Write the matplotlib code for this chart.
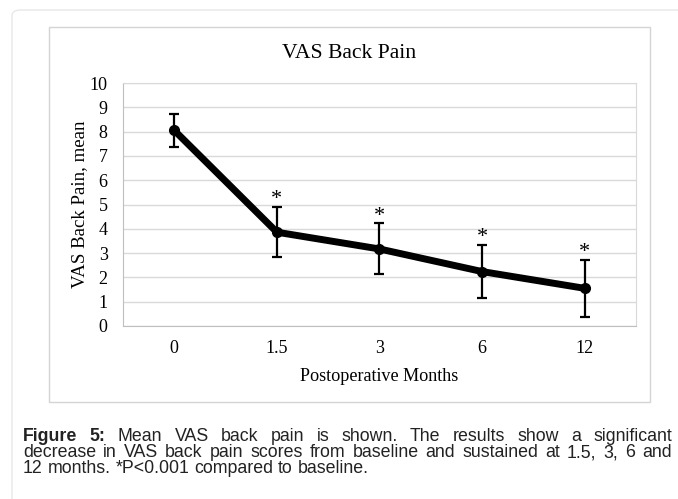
import matplotlib
matplotlib.use("Agg")
import matplotlib.pyplot as plt
from matplotlib.patches import Rectangle, FancyBboxPatch

# data
months = ["0", "1.5", "3", "6", "12"]
vas_mean = [8.05, 3.86, 3.17, 2.24, 1.55]
vas_err = [0.67, 1.04, 1.05, 1.09, 1.17]
signif = [False, True, True, True, True]

caption_lines = [
    "Mean VAS back pain is shown. The results show a significant",
    "decrease in VAS back pain scores from baseline and sustained at 1.5, 3, 6 and",
    "12 months. *P<0.001 compared to baseline.",
]

W, H = 678, 499
fig = plt.figure(figsize=(W / 100, H / 100), dpi=100)
SERIF = ["Liberation Serif", "DejaVu Serif"]
SANS = ["Liberation Sans", "DejaVu Sans"]

def px(x, y):
    return x / W, 1 - y / H

# outer page frame (rounded, runs off the right/bottom edge)
fig.patches.append(FancyBboxPatch(px(12, 520), 700 / W, 510 / H,
                                  boxstyle="round,pad=0,rounding_size=0.012",
                                  transform=fig.transFigure, fill=False,
                                  ec="#e8e8e8", lw=1))
# chart box
fig.patches.append(Rectangle(px(49, 402), (650 - 49) / W, (402 - 27) / H,
                             transform=fig.transFigure, fill=False,
                             ec="#d4d4d4", lw=1))

ax = fig.add_axes([123 / W, 1 - 326 / H, (636 - 123) / W, (326 - 83) / H])
xs = range(len(months))
ax.errorbar(xs, vas_mean, yerr=vas_err, fmt="none", ecolor="black",
            elinewidth=1.6, capsize=3.5, capthick=1.6, zorder=3)
ax.plot(xs, vas_mean, color="black", lw=5, solid_capstyle="round",
        solid_joinstyle="round", marker="o", ms=7, zorder=4)
for i, s in enumerate(signif):
    if s:
        ax.annotate("*", (i, vas_mean[i] + vas_err[i]), xytext=(0, 2),
                    textcoords="offset points", ha="center", va="baseline",
                    fontsize=16, family=SERIF)

ax.set_xlim(-0.5, len(months) - 0.5)
ax.set_ylim(0, 10)
ax.set_yticks(range(0, 11))
ax.set_xticks(list(xs))
ax.set_xticklabels(months)
ax.yaxis.grid(True, color="#d9d9d9", lw=1)
ax.set_axisbelow(True)
ax.tick_params(length=0, labelsize=13, pad=11)
ax.tick_params(axis="x", pad=10)
for lab in ax.get_xticklabels() + ax.get_yticklabels():
    lab.set_family(SERIF)
for side in ["top", "right"]:
    ax.spines[side].set_color("#d9d9d9")
for side in ["left", "bottom"]:
    ax.spines[side].set_color("#bfbfbf")
ax.set_ylabel("VAS Back Pain, mean", family=SERIF, fontsize=13.6, labelpad=1)
ax.set_xlabel("Postoperative Months", family=SERIF, fontsize=13.1, labelpad=8)

fig.text(*px(349.5, 53), "VAS Back Pain", ha="center", va="center",
         family=SERIF, fontsize=15.6)

# caption, justified like the journal page
renderer = fig.canvas.get_renderer()
CAP_FS = 12.8
left, right = 23, 672
baselines = [441, 457, 473]

def text_width(s, bold=False):
    t = fig.text(0, 0, s, fontsize=CAP_FS, family=SANS,
                 weight="bold" if bold else "normal")
    w = t.get_window_extent(renderer).width
    t.remove()
    return w

SPACE = text_width("a a") - 2 * text_width("a")

def place_line(words, y, justify):
    widths = [text_width(w, b) for w, b in words]
    if justify and len(words) > 1:
        gap = (right - left - sum(widths)) / (len(words) - 1)
    else:
        gap = SPACE
    x = left
    for (w, b), wd in zip(words, widths):
        fig.text(*px(x, y), w, fontsize=CAP_FS, family=SANS, color="#222222",
                 weight="bold" if b else "normal", va="baseline")
        x += wd + gap

line1 = [("Figure", True), ("5:", True)] + [(w, False) for w in caption_lines[0].split()]
line2 = [(w, False) for w in caption_lines[1].split()]
line3 = [(w, False) for w in caption_lines[2].split()]
place_line(line1, baselines[0], True)
place_line(line2, baselines[1], True)
place_line(line3, baselines[2], False)

fig.savefig("out.png", dpi=100)
